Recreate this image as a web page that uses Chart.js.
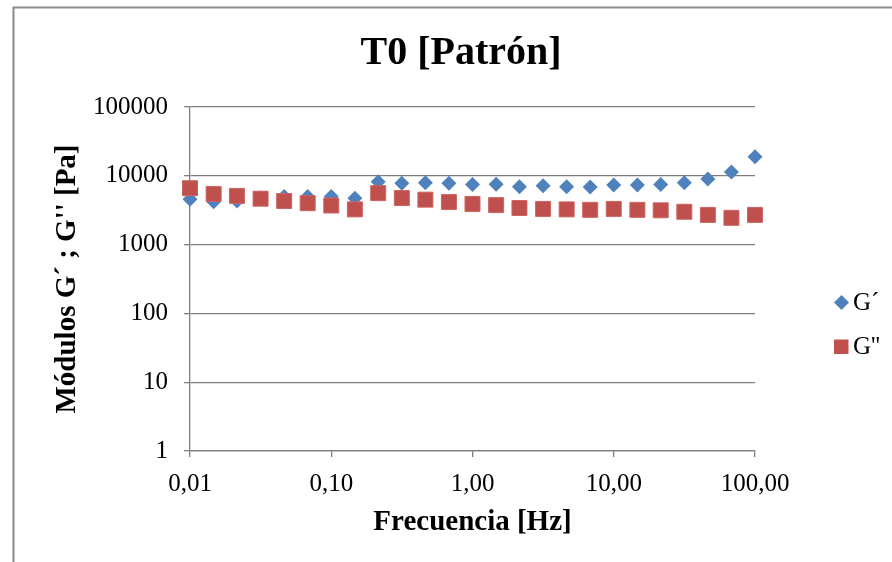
<!DOCTYPE html>
<html>
<head>
<meta charset="utf-8">
<script src="https://cdn.jsdelivr.net/npm/chart.js@4/dist/chart.umd.min.js"></script>
<style>
  html, body { margin: 0; padding: 0; background: #fff; }
  canvas { display: block; }
</style>
</head>
<body>
<canvas id="chart" width="892" height="562"></canvas>
<script>
// --- data ---
const freq = [0.01, 0.0147, 0.0215, 0.0316, 0.0464, 0.0681, 0.1, 0.147, 0.215, 0.316, 0.464, 0.681,
              1, 1.47, 2.15, 3.16, 4.64, 6.81, 10, 14.7, 21.5, 31.6, 46.4, 68.1, 100];
const gPrime = [4550, 4200, 4300, 4750, 5000, 5000, 5000, 4700, 8200, 7800, 7900, 7800,
                7500, 7550, 6950, 7150, 6950, 6850, 7350, 7350, 7500, 7900, 9000, 11350, 18900];
const gDouble = [6600, 5450, 5100, 4650, 4300, 4000, 3700, 3250, 5600, 4750, 4500, 4150,
                 3900, 3750, 3400, 3300, 3250, 3200, 3300, 3200, 3150, 3000, 2700, 2450, 2700];
const xTicks = [0.01, 0.1, 1, 10, 100];
const xTickLabels = ['0,01', '0,10', '1,00', '10,00', '100,00'];
const yTicks = [1, 10, 100, 1000, 10000, 100000];
const yTickLabels = ['1', '10', '100', '1000', '10000', '100000'];
const seriesNames = ['G´', "G''"];

const BLUE = '#4F81BD';
const RED = '#C0504D';
const GRID = '#7f7f7f';
const SERIF = '"Liberation Serif", "Times New Roman", serif';

function pts(ys) {
    return freq.map((f, i) => ({ x: f, y: ys[i] }));
}

// frame, title and legend drawn around the chart
const decor = {
    id: 'decor',
    beforeDraw(chart) {
        const c = chart.ctx;
        c.save();
        c.fillStyle = '#fff';
        c.fillRect(0, 0, chart.width, chart.height);
        c.strokeStyle = '#8a8a8a';
        c.lineWidth = 2;
        c.beginPath();
        c.moveTo(13.5, chart.height);
        c.lineTo(13.5, 7.5);
        c.lineTo(chart.width, 7.5);
        c.stroke();
        c.restore();
    },
    afterDraw(chart) {
        const c = chart.ctx;
        c.save();
        c.fillStyle = '#000';
        c.textAlign = 'center';
        c.textBaseline = 'middle';
        c.font = 'bold 40px ' + SERIF;
        c.fillText('T0 [Patrón]', 461, 54);

        // legend
        c.textAlign = 'left';
        c.font = '25px ' + SERIF;
        c.fillStyle = BLUE;
        c.beginPath();
        c.moveTo(841.5, 295);
        c.lineTo(849, 302.5);
        c.lineTo(841.5, 310);
        c.lineTo(834, 302.5);
        c.closePath();
        c.fill();
        c.fillStyle = RED;
        c.fillRect(834, 339.5, 14.5, 14.5);
        c.fillStyle = '#000';
        c.fillText(seriesNames[0], 853, 303);
        c.fillText(seriesNames[1], 853, 347);
        c.restore();
    }
};

new Chart(document.getElementById('chart'), {
    type: 'scatter',
    data: {
        datasets: [
            { label: seriesNames[0], data: pts(gPrime), pointStyle: 'rectRot', pointRadius: 7.5,
              backgroundColor: BLUE, borderColor: BLUE, borderWidth: 0, order: 1, clip: false },
            { label: seriesNames[1], data: pts(gDouble), pointStyle: 'rect', pointRadius: 10.6,
              backgroundColor: RED, borderColor: '#cc6562', borderWidth: 1, order: 0, clip: false }
        ]
    },
    options: {
        responsive: false,
        animation: false,
        events: [],
        layout: { padding: { top: 107, right: 137, left: 0, bottom: 0 } },
        plugins: { legend: { display: false }, title: { display: false }, tooltip: { enabled: false } },
        scales: {
            x: {
                type: 'logarithmic',
                min: 0.01, max: 100,
                afterBuildTicks: s => { s.ticks = xTicks.map(v => ({ value: v })); },
                afterFit: s => { s.height = 111; },
                ticks: {
                    autoSkip: false, maxRotation: 0, padding: 12, color: '#000',
                    font: { family: SERIF, size: 25 },
                    callback: (v, i) => xTickLabels[i]
                },
                grid: { drawOnChartArea: false, drawTicks: true, tickLength: 6, color: GRID, lineWidth: 1.3 },
                border: { display: true, color: GRID, width: 1.3 },
                title: {
                    display: true, text: 'Frecuencia [Hz]', color: '#000',
                    font: { family: SERIF, size: 29, weight: 'bold' },
                    padding: { top: 0, bottom: 22 }
                }
            },
            y: {
                type: 'logarithmic',
                min: 1, max: 100000,
                afterBuildTicks: s => { s.ticks = yTicks.map(v => ({ value: v })); },
                afterFit: s => { s.width = 190; },
                ticks: {
                    autoSkip: false, padding: 16, color: '#000',
                    font: { family: SERIF, size: 25 },
                    callback: (v, i) => yTickLabels[i]
                },
                grid: { color: GRID, lineWidth: 1.3, drawTicks: true, tickLength: 6 },
                border: { display: true, color: GRID, width: 1.3 },
                title: {
                    display: true, text: "Módulos G´ ; G'' [Pa]", color: '#000',
                    font: { family: SERIF, size: 29, weight: 'bold' },
                    padding: { top: 50, bottom: 0 }
                }
            }
        }
    },
    plugins: [decor]
});
</script>
</body>
</html>
